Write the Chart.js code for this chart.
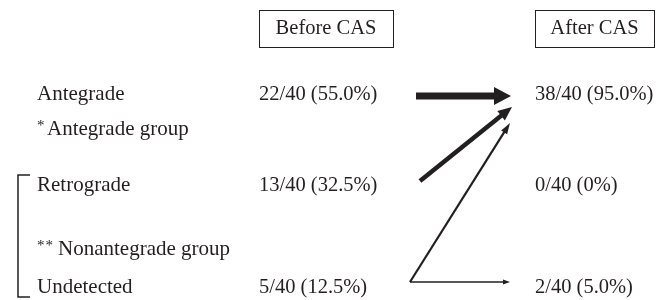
<!DOCTYPE html>
<html>
<head>
<meta charset="utf-8">
<script src="https://cdn.jsdelivr.net/npm/chart.js@4"></script>
<style>
  html, body { margin: 0; padding: 0; background: #fff; }
  #wrap { width: 666px; height: 300px; }
</style>
</head>
<body>
<div id="wrap"><canvas id="flowChart" width="666" height="300"></canvas></div>
<script>
// data
const categories = ['Antegrade', 'Retrograde', 'Undetected'];
const total = 40;
const beforeCounts = [22, 13, 5];
const afterCounts = [38, 0, 2];
const columnTitles = ['Before CAS', 'After CAS'];
const groupMarks = ['*', '**'];
const groupNames = ['Antegrade group', 'Nonantegrade group'];
const flowFrom = ['Antegrade', 'Retrograde', 'Undetected', 'Undetected'];
const flowTo = ['Antegrade', 'Antegrade', 'Antegrade', 'Undetected'];

// layout (scale units = px)
const ink = '#231f20';
const font = '"Liberation Serif", "Times New Roman", serif';
const wordFont = '21px ' + font;
const numFont = '20.5px ' + font;
const colX = { label: 37, before: 259, after: 535 };
const rowBase = { header: 34, Antegrade: 100, Retrograde: 191, Undetected: 293 };
const noteBase = [135, 255];
const noteTextX = [47, 58];
const boxes = [{ x0: 259, x1: 393 }, { x0: 535, x1: 654 }];
const boxTop = 10, boxBottom = 47;
const arrowY = { Antegrade: 96, Retrograde: 181, Undetected: 282 };
const arrowLayout = [
  { sx: 416, ex: 511, dy: 0,  w: 7,   hl: 17, hw: 18 },
  { sx: 420, ex: 512, dy: 11, w: 4.5, hl: 14, hw: 12 },
  { sx: 410, ex: 510, dy: 27, w: 2.2, hl: 11, hw: 7 },
  { sx: 410, ex: 510, dy: 0,  w: 1.3, hl: 7,  hw: 5 }
];
const bracket = { x: 18, tick: 12, top: 175, bottom: 297 };

const fmt = n => {
  const p = n / total * 100;
  return n + '/' + total + ' (' + (n === 0 ? '0' : p.toFixed(1)) + '%)';
};

// arrow shafts as line datasets, ending under the heads
const arrowSets = flowFrom.map((from, i) => {
  const a = arrowLayout[i];
  const start = { x: a.sx, y: arrowY[from] };
  const tip = { x: a.ex, y: arrowY[flowTo[i]] + a.dy };
  const dx = tip.x - start.x, dy = tip.y - start.y;
  const len = Math.hypot(dx, dy);
  const back = a.hl * 0.8;
  const base = { x: tip.x - dx / len * back, y: tip.y - dy / len * back };
  return {
    data: [start, base],
    showLine: true,
    borderColor: ink,
    borderWidth: a.w,
    borderCapStyle: 'butt',
    pointRadius: 0,
    clip: false,
    tip: tip,
    headLen: a.hl,
    headWidth: a.hw
  };
});

const bracketSet = {
  data: [
    { x: bracket.x + bracket.tick, y: bracket.top },
    { x: bracket.x, y: bracket.top },
    { x: bracket.x, y: bracket.bottom },
    { x: bracket.x + bracket.tick, y: bracket.bottom }
  ],
  showLine: true,
  borderColor: ink,
  borderWidth: 1.5,
  borderJoinStyle: 'miter',
  pointRadius: 0,
  clip: false
};

const arrowHeads = {
  id: 'arrowHeads',
  afterDatasetsDraw(chart) {
    const ctx = chart.ctx, xs = chart.scales.x, ys = chart.scales.y;
    chart.data.datasets.forEach(ds => {
      if (!ds.tip) return;
      const s = ds.data[0];
      const sx = xs.getPixelForValue(s.x), sy = ys.getPixelForValue(s.y);
      const tx = xs.getPixelForValue(ds.tip.x), ty = ys.getPixelForValue(ds.tip.y);
      const ang = Math.atan2(ty - sy, tx - sx);
      ctx.save();
      ctx.translate(tx, ty);
      ctx.rotate(ang);
      ctx.beginPath();
      ctx.moveTo(0, 0);
      ctx.lineTo(-ds.headLen, -ds.headWidth / 2);
      ctx.lineTo(-ds.headLen, ds.headWidth / 2);
      ctx.closePath();
      ctx.fillStyle = ink;
      ctx.fill();
      ctx.restore();
    });
  }
};

const labels = {
  id: 'labels',
  afterDraw(chart) {
    const ctx = chart.ctx, xs = chart.scales.x, ys = chart.scales.y;
    const X = v => xs.getPixelForValue(v), Y = v => ys.getPixelForValue(v);
    ctx.save();
    ctx.fillStyle = ink;
    ctx.strokeStyle = ink;
    ctx.textBaseline = 'alphabetic';

    // column header boxes
    ctx.lineWidth = 1;
    ctx.font = numFont;
    boxes.forEach((b, i) => {
      ctx.strokeRect(Math.round(X(b.x0)) + 0.5, Math.round(Y(boxTop)) + 0.5,
        X(b.x1) - X(b.x0), Y(boxBottom) - Y(boxTop));
      ctx.textAlign = 'center';
      ctx.fillText(columnTitles[i], X((b.x0 + b.x1) / 2), Y(rowBase.header));
    });

    // rows
    ctx.textAlign = 'left';
    categories.forEach((c, i) => {
      const y = Y(rowBase[c]);
      ctx.font = wordFont;
      ctx.fillText(c, X(colX.label), y);
      ctx.font = numFont;
      ctx.fillText(fmt(beforeCounts[i]), X(colX.before), y);
      ctx.fillText(fmt(afterCounts[i]), X(colX.after), y);
    });

    // group notes (superscript asterisks)
    groupNames.forEach((g, i) => {
      ctx.font = '15px ' + font;
      groupMarks[i].split('').forEach((m, k) => {
        ctx.fillText(m, X(colX.label + k * 8.5), Y(noteBase[i] - 5));
      });
      ctx.font = wordFont;
      ctx.fillText(g, X(noteTextX[i]), Y(noteBase[i]));
    });
    ctx.restore();
  }
};

new Chart(document.getElementById('flowChart'), {
  type: 'scatter',
  data: { datasets: [...arrowSets, bracketSet] },
  options: {
    responsive: false,
    animation: false,
    devicePixelRatio: 1,
    layout: { padding: 0 },
    scales: {
      x: { type: 'linear', min: 0, max: 666, display: false },
      y: { type: 'linear', min: 0, max: 300, reverse: true, display: false }
    },
    plugins: { legend: { display: false }, tooltip: { enabled: false } }
  },
  plugins: [arrowHeads, labels]
});
</script>
</body>
</html>
